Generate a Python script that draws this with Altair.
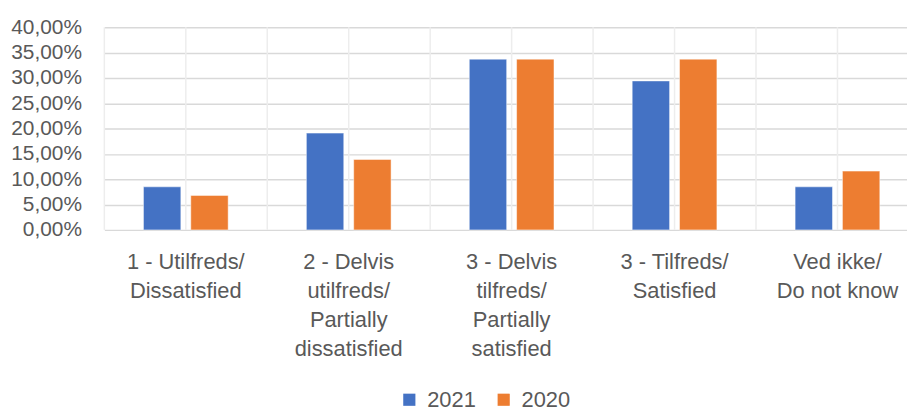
import altair as alt
import pandas as pd

categories = [
    "1 - Utilfreds/|Dissatisfied",
    "2 - Delvis|utilfreds/|Partially|dissatisfied",
    "3 - Delvis|tilfreds/|Partially|satisfied",
    "3 - Tilfreds/|Satisfied",
    "Ved ikke/|Do not know",
]
series = ["2021", "2020"]
values_2021 = [0.085, 0.191, 0.337, 0.294, 0.085]
values_2020 = [0.068, 0.139, 0.337, 0.337, 0.116]
y_ticks = [0.0, 0.05, 0.10, 0.15, 0.20, 0.25, 0.30, 0.35, 0.40]
colors = ["#4472C4", "#ED7D31"]

rows = []
for c, a, b in zip(categories, values_2021, values_2020):
    rows.append({"cat": c, "year": "2021", "v": a})
    rows.append({"cat": c, "year": "2020", "v": b})
df = pd.DataFrame(rows)

W, H = 808, 204
XR = 820
TXT = "#595959"

grid = (
    alt.Chart(alt.sequence(0, 11, 1, as_="i"))
    .transform_calculate(g="datum.i / 2")
    .mark_rule(color="#ededed", strokeWidth=1.5)
    .encode(
        x=alt.X("g:Q", scale=alt.Scale(domain=[0, 5], range=[0, XR]), axis=None),
        y=alt.value(0),
        y2=alt.value(H),
    )
)

bars = (
    alt.Chart(df)
    .mark_bar(stroke="#ffffff", strokeWidth=0.8, strokeOpacity=0.6)
    .encode(
        x=alt.X(
            "cat:N",
            sort=categories,
            scale=alt.Scale(range=[0, XR], paddingInner=0.48, paddingOuter=0.24),
            axis=alt.Axis(
                title=None,
                labelExpr="split(datum.label, '|')",
                labelAngle=0,
                labelFontSize=22,
                labelColor=TXT,
                labelLineHeight=29,
                labelPadding=22,
                ticks=False,
                domain=False,
                grid=False,
                labelLimit=250,
            ),
        ),
        xOffset=alt.XOffset("year:N", sort=series, scale=alt.Scale(paddingInner=0.21)),
        y=alt.Y(
            "v:Q",
            scale=alt.Scale(domain=[0, 0.4]),
            axis=alt.Axis(
                title=None,
                values=y_ticks,
                labelExpr="replace(format(datum.value, '.2%'), '.', ',')",
                labelFontSize=21,
                labelColor=TXT,
                labelPadding=23,
                ticks=False,
                domain=False,
                grid=True,
                gridColor="#d9d9d9",
                gridWidth=1.5,
            ),
        ),
        color=alt.Color(
            "year:N",
            sort=series,
            scale=alt.Scale(domain=series, range=colors),
            legend=alt.Legend(
                title=None,
                orient="none",
                legendX=296,
                legendY=364,
                direction="horizontal",
                symbolType="square",
                symbolSize=150,
                symbolStrokeWidth=0,
                labelFontSize=22,
                labelColor=TXT,
                columnPadding=17,
                labelOffset=7,
            ),
        ),
    )
)

chart = (
    alt.layer(grid, bars)
    .resolve_scale(x="independent")
    .properties(
        width=W,
        height=H,
        autosize=alt.AutoSizeParams(type="none"),
        padding={"left": 97, "top": 18, "right": 0, "bottom": 185},
    )
    .configure(font="Liberation Sans")
    .configure_view(stroke=None)
)

chart.save("out.html", embed_options={"renderer": "svg", "actions": False})
